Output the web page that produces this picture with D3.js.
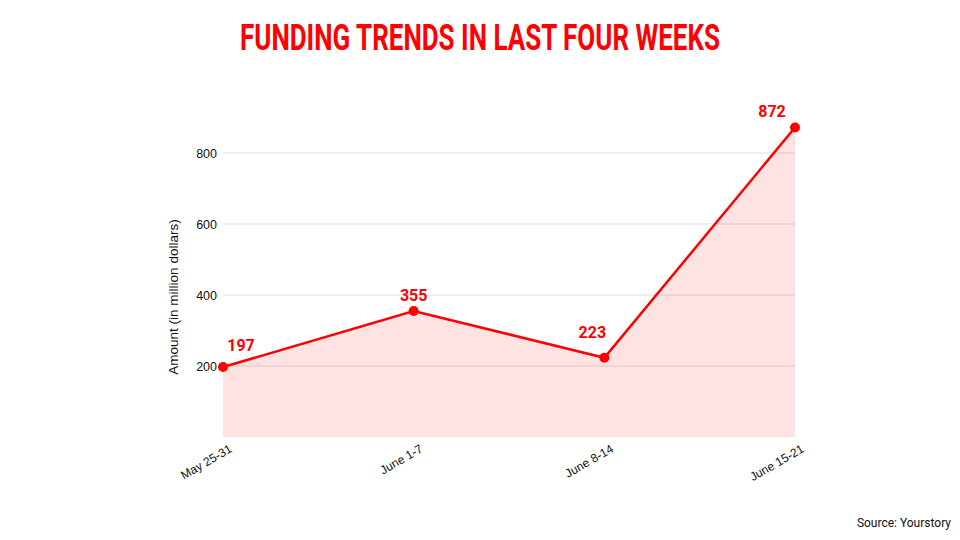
<!DOCTYPE html>
<html><head><meta charset="utf-8">
<script src="https://cdn.jsdelivr.net/npm/d3@7"></script>
<style>body{margin:0;background:#fff}svg{display:block}</style>
</head><body>
<svg id="c" width="960" height="540"></svg>
<script>
const categories = ["May 25-31", "June 1-7", "June 8-14", "June 15-21"];
const values = [197, 355, 223, 872];
const yTicks = [200, 400, 600, 800];
const titleText = "FUNDING TRENDS IN LAST FOUR WEEKS";
const yTitle = "Amount (in million dollars)";
const sourceText = "Source: Yourstory";

const svg = d3.select("#c");
const red = "#ff0000";
const x = d3.scalePoint().domain(categories).range([223, 795]);
const y = d3.scaleLinear().domain([0, 800]).range([437, 153]);

svg.append("text").attr("x", 480).attr("y", 50).attr("text-anchor", "middle")
  .attr("font-family", "Roboto, 'Liberation Sans', sans-serif")
  .attr("font-weight", "bold").attr("font-size", 37).attr("fill", red)
  .attr("textLength", 480).attr("lengthAdjust", "spacingAndGlyphs").text(titleText);

// area
const area = d3.area().x((d, i) => x(categories[i])).y0(y(0)).y1(d => y(d));
svg.append("path").datum(values).attr("d", area).attr("fill", "#ffe3e3");

// gridlines
svg.append("g").selectAll("line").data(yTicks).join("line")
  .attr("x1", 223).attr("x2", 795).attr("y1", d => y(d)).attr("y2", d => y(d))
  .attr("stroke", "#000").attr("stroke-opacity", 0.13).attr("stroke-width", 1);

// y axis labels
const yAxis = d3.axisLeft(y).tickValues(yTicks).tickSize(0).tickPadding(6);
const gy = svg.append("g").attr("transform", "translate(223,0)").call(yAxis);
gy.select(".domain").remove();
gy.selectAll("text").attr("font-family", "'Liberation Sans', Arial, sans-serif").attr("font-size", 12.5).attr("fill", "#111");

// x axis labels
const xAxis = d3.axisBottom(x).tickSize(0).tickPadding(0);
const gx = svg.append("g").attr("transform", "translate(0,447)").call(xAxis);
gx.select(".domain").remove();
gx.selectAll("text").attr("font-family", "'Liberation Sans', Arial, sans-serif").attr("font-size", 12).attr("fill", "#111")
  .attr("text-anchor", "end").attr("dy", "0.7em").attr("dx", "0.5em").attr("transform", "rotate(-30)");

// y title
svg.append("text").attr("transform", "translate(178,297) rotate(-90)").attr("text-anchor", "middle")
  .attr("font-family", "'Liberation Sans', Arial, sans-serif").attr("font-size", 13.5).attr("fill", "#111").text(yTitle);

// line
const line = d3.line().x((d, i) => x(categories[i])).y(d => y(d));
svg.append("path").datum(values).attr("d", line).attr("fill", "none").attr("stroke", red).attr("stroke-width", 2.5);

svg.append("g").selectAll("circle").data(values).join("circle")
  .attr("cx", (d, i) => x(categories[i])).attr("cy", d => y(d)).attr("r", 5).attr("fill", red);

// data labels
const offs = [[18, -16], [0, -10], [-12, -20], [-23, -10]];
svg.append("g").selectAll("text").data(values).join("text")
  .attr("x", (d, i) => x(categories[i]) + offs[i][0]).attr("y", (d, i) => y(d) + offs[i][1])
  .attr("text-anchor", "middle").attr("font-family", "Roboto, Arial, sans-serif").attr("font-weight", "bold")
  .attr("font-size", 16).attr("fill", red).text(d => d);

svg.append("text").attr("x", 951).attr("y", 527).attr("text-anchor", "end")
  .attr("font-family", "Roboto, Arial, sans-serif").attr("font-size", 12).attr("fill", "#111").text(sourceText);
</script>
</body></html>
